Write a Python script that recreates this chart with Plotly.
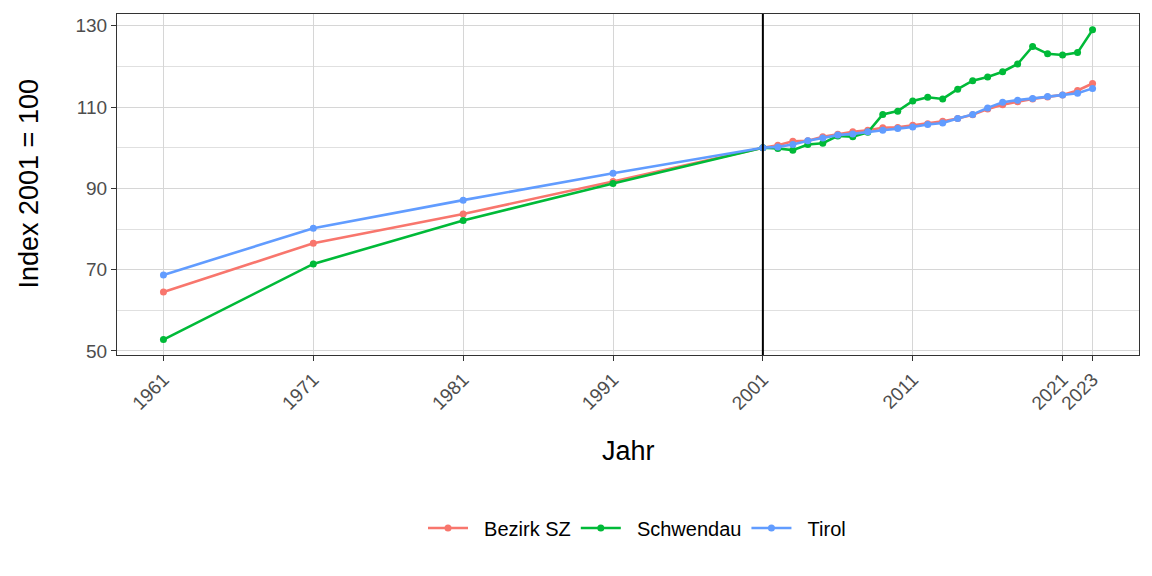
import plotly.graph_objects as go

years = [1961, 1971, 1981, 1991, 2001, 2002, 2003, 2004, 2005, 2006, 2007, 2008, 2009,
         2010, 2011, 2012, 2013, 2014, 2015, 2016, 2017, 2018, 2019, 2020, 2021, 2022, 2023]

bezirk_sz = [64.5, 76.5, 83.7, 91.7, 100.0, 100.6, 101.6, 101.7, 102.7, 103.3, 103.9, 104.3, 104.9,
             105.0, 105.5, 105.9, 106.5, 107.2, 108.1, 109.5, 110.6, 111.3, 112.0, 112.5, 113.0, 114.1, 115.8]

schwendau = [52.8, 71.4, 82.1, 91.2, 100.0, 99.8, 99.4, 100.8, 101.1, 102.9, 102.7, 103.8, 108.2,
             109.0, 111.5, 112.4, 112.0, 114.4, 116.5, 117.4, 118.7, 120.6, 124.9, 123.1, 122.8, 123.4, 129.0]

tirol = [68.7, 80.2, 87.1, 93.7, 100.0, 100.2, 100.8, 101.7, 102.4, 103.1, 103.4, 103.9, 104.3,
         104.7, 105.1, 105.7, 106.1, 107.2, 108.2, 109.8, 111.2, 111.7, 112.1, 112.6, 113.0, 113.4, 114.6]

series_names = ["Bezirk SZ", "Schwendau", "Tirol"]
series_values = [bezirk_sz, schwendau, tirol]
series_colors = ["#F8766D", "#00BA38", "#619CFF"]

x_ticks = [1961, 1971, 1981, 1991, 2001, 2011, 2021, 2023]
y_ticks = [50, 70, 90, 110, 130]
y_minor = [60, 80, 100, 120]
ref_year = 2001

fig = go.Figure()
for name, vals, col in zip(series_names, series_values, series_colors):
    fig.add_trace(go.Scatter(
        x=years, y=vals, name="\u00a0\u00a0" + name, mode="lines+markers",
        line=dict(color=col, width=2.6),
        marker=dict(color=col, size=7, symbol="circle"),
    ))

fig.add_shape(type="line", x0=ref_year, x1=ref_year, xref="x", y0=0, y1=1, yref="paper",
              line=dict(color="black", width=2))

font_fam = "Liberation Sans, Arial, sans-serif"
OFF = 7  # page body offset
W, H = 1152, 576
px_left, px_right, px_top, px_bottom = 116, 1138, 13, 354
L = px_left - OFF
T = px_top - OFF
R = W - (px_right - OFF)
B = H - (px_bottom - OFF)
plot_h = px_bottom - px_top
plot_w = px_right - px_left

fig.add_annotation(text="Jahr", xref="paper", yref="paper", x=(627 - px_left) / plot_w,
                   y=(px_bottom - 450) / plot_h,
                   xanchor="center", yanchor="middle", showarrow=False,
                   font=dict(size=27, color="black", family=font_fam))
fig.add_annotation(text="Index 2001 = 100", xref="paper", yref="paper", x=(27 - px_left) / plot_w,
                   y=0.5, xanchor="center", yanchor="middle", textangle=-90, showarrow=False,
                   font=dict(size=27, color="black", family=font_fam))

fig.update_layout(
    width=W, height=H,
    margin=dict(l=L, r=R, t=T, b=B, autoexpand=False),
    paper_bgcolor="white", plot_bgcolor="white",
    font=dict(family=font_fam, size=19, color="#4d4d4d"),
    showlegend=True,
    legend=dict(orientation="h", x=(636 - px_left) / plot_w, xanchor="center",
                y=(px_bottom - 527) / plot_h, yanchor="middle",
                font=dict(size=20, color="black"), itemwidth=40, tracegroupgap=0),
    xaxis=dict(
        range=[1957.9, 2026.1], tickmode="array", tickvals=x_ticks,
        ticktext=[str(v) for v in x_ticks], tickangle=-45,
        showgrid=True, gridcolor="#d6d6d6", gridwidth=1,
        showline=True, mirror=True, linecolor="#333333", linewidth=1.2,
        ticks="outside", ticklen=5, tickcolor="#333333",
        tickfont=dict(size=19, color="#4d4d4d"),
        automargin=False, zeroline=False,
    ),
    yaxis=dict(
        range=[49.0, 132.9], tickmode="array", tickvals=y_ticks,
        showgrid=True, gridcolor="#d6d6d6", gridwidth=1,
        minor=dict(tickvals=y_minor, showgrid=True, gridcolor="#e0e0e0", gridwidth=1),
        showline=True, mirror=True, linecolor="#333333", linewidth=1.2,
        ticks="outside", ticklen=5, tickcolor="#333333",
        tickfont=dict(size=19, color="#4d4d4d"),
        automargin=False, zeroline=False,
    ),
)

fig.write_html("out.html")
